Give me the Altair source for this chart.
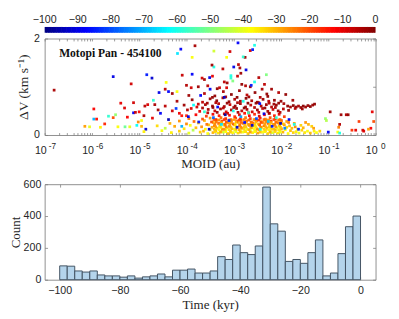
import altair as alt
import pandas as pd

# ---------------- data ----------------
cbar_ticks = [-100, -90, -80, -70, -60, -50, -40, -30, -20, -10, 0]
jet_stops = [-100, -87.5, -62.5, -37.5, -12.5, 0]
jet_colors = ["#000080", "#0000ff", "#00ffff", "#ffff00", "#ff0000", "#800000"]

time_ticks = [-100, -80, -60, -40, -20, 0]
count_ticks = [0, 200, 400, 600]
dv_ticks = [0, 1, 2]

bin_width = 2.5
bin_left = [-100 + bin_width * i for i in range(40)]
bin_count = [87, 85, 55, 48, 55, 30, 24, 24, 16, 24, 10, 18, 24, 36, 18, 60, 60, 67,
             42, 42, 55, 145, 127, 218, 170, 158, 212, 582, 351, 305, 115, 127, 103,
             170, 250, 24, 42, 164, 333, 400]

# scatter points: (log10 MOID [au], dV [km/s], time [kyr])
low_band = [
    (-4.32, 0.05, -36), (-3.95, 0.04, -40), (-3.71, 0.06, -33), (-3.55, 0.03, -38), (-3.44, 0.05, -30),
    (-3.33, 0.04, -35), (-3.22, 0.06, -42), (-3.12, 0.03, -31), (-3.02, 0.05, -37), (-2.91, 0.04, -34),
    (-2.81, 0.06, -39), (-2.70, 0.03, -32), (-2.60, 0.05, -36), (-2.49, 0.04, -29), (-2.39, 0.06, -38),
    (-2.28, 0.03, -33), (-2.18, 0.05, -41), (-2.07, 0.04, -35), (-1.96, 0.06, -30), (-1.85, 0.03, -37),
    (-1.74, 0.05, -33), (-1.62, 0.04, -39), (-1.50, 0.05, -35), (-1.38, 0.04, -31),
    (-4.52, 0.09, -38), (-4.15, 0.08, -33), (-3.86, 0.10, -45), (-3.64, 0.08, -30), (-3.50, 0.11, -36),
    (-3.38, 0.09, -28), (-3.27, 0.07, -34), (-3.17, 0.10, -39), (-3.07, 0.08, -31), (-2.96, 0.11, -27),
    (-2.86, 0.09, -36), (-2.75, 0.07, -33), (-2.65, 0.10, -40), (-2.54, 0.08, -30), (-2.44, 0.11, -35),
    (-2.33, 0.09, -32), (-2.23, 0.07, -37), (-2.12, 0.10, -29), (-2.02, 0.08, -34), (-1.91, 0.11, -38),
    (-1.80, 0.09, -31), (-1.68, 0.07, -36), (-1.56, 0.10, -33), (-1.44, 0.08, -38),
    (-4.45, 0.14, -44), (-4.05, 0.13, -35), (-3.80, 0.15, -31), (-3.60, 0.12, -37), (-3.46, 0.16, -29),
    (-3.35, 0.14, -33), (-3.24, 0.12, -26), (-3.14, 0.15, -36), (-3.04, 0.13, -30), (-2.93, 0.16, -34),
    (-2.83, 0.14, -28), (-2.72, 0.12, -39), (-2.62, 0.15, -31), (-2.51, 0.13, -27), (-2.41, 0.16, -35),
    (-2.30, 0.14, -30), (-2.20, 0.12, -33), (-2.09, 0.15, -38), (-1.99, 0.13, -29), (-1.88, 0.16, -34),
    (-1.77, 0.14, -31), (-1.65, 0.12, -36), (-1.53, 0.15, -30),
    (-4.62, 0.19, -34), (-4.25, 0.18, -29), (-3.92, 0.20, -38), (-3.68, 0.17, -27), (-3.53, 0.21, -32),
    (-3.41, 0.19, -25), (-3.30, 0.17, -35), (-3.19, 0.20, -29), (-3.09, 0.18, -23), (-2.99, 0.21, -33),
    (-2.88, 0.19, -28), (-2.78, 0.17, -31), (-2.67, 0.20, -26), (-2.57, 0.18, -36), (-2.46, 0.21, -29),
    (-2.36, 0.19, -24), (-2.25, 0.17, -32), (-2.15, 0.20, -28), (-2.04, 0.18, -35), (-1.93, 0.21, -27),
    (-1.82, 0.19, -31), (-1.70, 0.17, -26), (-1.58, 0.20, -33),
    (-4.35, 0.24, -30), (-4.00, 0.23, -26), (-3.75, 0.25, -33), (-3.57, 0.22, -24), (-3.43, 0.26, -29),
    (-3.32, 0.24, -22), (-3.21, 0.22, -31), (-3.11, 0.25, -27), (-3.01, 0.23, -20), (-2.90, 0.26, -30),
    (-2.80, 0.24, -25), (-2.69, 0.22, -28), (-2.59, 0.25, -23), (-2.48, 0.23, -32), (-2.38, 0.26, -26),
    (-2.27, 0.24, -21), (-2.17, 0.22, -29), (-2.06, 0.25, -25), (-1.95, 0.23, -31), (-1.84, 0.26, -24),
    (-1.72, 0.24, -28),
    (-4.15, 0.29, -27), (-3.84, 0.28, -23), (-3.62, 0.30, -30), (-3.47, 0.27, -20), (-3.36, 0.31, -26),
    (-3.25, 0.29, -19), (-3.15, 0.27, -28), (-3.05, 0.30, -22), (-2.94, 0.28, -17), (-2.84, 0.31, -27),
    (-2.73, 0.29, -21), (-2.63, 0.27, -25), (-2.52, 0.30, -19), (-2.42, 0.28, -29), (-2.31, 0.31, -23),
    (-2.21, 0.29, -18), (-2.10, 0.27, -26), (-1.99, 0.30, -22), (-1.88, 0.28, -28),
    (-3.95, 0.34, -24), (-3.66, 0.33, -20), (-3.50, 0.35, -27), (-3.38, 0.32, -17), (-3.27, 0.36, -23),
    (-3.17, 0.34, -16), (-3.06, 0.32, -25), (-2.96, 0.35, -19), (-2.86, 0.33, -15), (-2.75, 0.36, -24),
    (-2.65, 0.34, -18), (-2.54, 0.32, -22), (-2.44, 0.35, -16), (-2.33, 0.33, -26), (-2.23, 0.36, -20),
    (-2.12, 0.34, -15), (-2.02, 0.32, -23),
    (-1.35, 0.18, -33), (-1.42, 0.22, -30), (-1.30, 0.08, -36), (-1.48, 0.26, -27), (-1.25, 0.05, -38),
    (-1.18, 0.08, -33), (-1.31, 0.14, -28),
]

low_fill = [
    (-3.39, 0.07, -34), (-3.28, 0.06, -29), (-3.17, 0.07, -37), (-3.07, 0.06, -33), (-2.96, 0.07, -40),
    (-2.86, 0.06, -31), (-2.76, 0.07, -35), (-2.65, 0.06, -28), (-2.55, 0.07, -38), (-2.44, 0.06, -32),
    (-2.34, 0.07, -36), (-2.23, 0.06, -30), (-2.13, 0.07, -34), (-2.02, 0.06, -39),
    (-3.41, 0.12, -31), (-3.31, 0.11, -37), (-3.20, 0.12, -27), (-3.10, 0.11, -33), (-2.99, 0.12, -36),
    (-2.89, 0.11, -29), (-2.78, 0.12, -34), (-2.68, 0.11, -30), (-2.57, 0.12, -38), (-2.47, 0.11, -27),
    (-2.36, 0.12, -33), (-2.26, 0.11, -36), (-2.15, 0.12, -31), (-2.05, 0.11, -35),
    (-3.38, 0.17, -28), (-3.27, 0.16, -34), (-3.16, 0.17, -25), (-3.06, 0.16, -31), (-2.95, 0.17, -37),
    (-2.85, 0.16, -26), (-2.74, 0.17, -32), (-2.64, 0.16, -29), (-2.53, 0.17, -35), (-2.43, 0.16, -25),
    (-2.32, 0.17, -30), (-2.22, 0.16, -34), (-2.11, 0.17, -27), (-2.01, 0.16, -32),
    (-3.40, 0.22, -26), (-3.29, 0.21, -31), (-3.18, 0.22, -23), (-3.08, 0.21, -29), (-2.97, 0.22, -34),
    (-2.87, 0.21, -24), (-2.76, 0.22, -30), (-2.66, 0.21, -27), (-2.55, 0.22, -33), (-2.45, 0.21, -22),
    (-2.34, 0.22, -28), (-2.24, 0.21, -32), (-2.13, 0.22, -25), (-2.03, 0.21, -30),
    (-3.37, 0.27, -24), (-3.26, 0.26, -28), (-3.16, 0.27, -21), (-3.05, 0.26, -27), (-2.95, 0.27, -31),
    (-2.84, 0.26, -22), (-2.74, 0.27, -28), (-2.63, 0.26, -24), (-2.53, 0.27, -30), (-2.42, 0.26, -20),
    (-2.32, 0.27, -26), (-2.21, 0.26, -29), (-2.11, 0.27, -23), (-2.00, 0.26, -27),
    (-3.42, 0.32, -21), (-3.31, 0.31, -26), (-3.20, 0.32, -18), (-3.10, 0.31, -24), (-2.99, 0.32, -28),
    (-2.89, 0.31, -19), (-2.78, 0.32, -25), (-2.68, 0.31, -21), (-2.57, 0.32, -27), (-2.47, 0.31, -17),
    (-2.36, 0.32, -23), (-2.26, 0.31, -26), (-2.15, 0.32, -20), (-2.05, 0.31, -24),
]

red_band = [
    (-4.10, 0.40, -14), (-3.80, 0.42, -12), (-3.58, 0.39, -18), (-3.44, 0.43, -11), (-3.31, 0.40, -15),
    (-3.20, 0.44, -9), (-3.09, 0.41, -13), (-2.98, 0.38, -17), (-2.88, 0.42, -10), (-2.77, 0.45, -14),
    (-2.67, 0.40, -12), (-2.56, 0.43, -16), (-2.46, 0.39, -9), (-2.35, 0.42, -13), (-2.25, 0.45, -11),
    (-2.14, 0.40, -15), (-2.04, 0.43, -10), (-1.93, 0.38, -18),
]

dark_band = [
    (-4.30, 0.50, -8), (-3.98, 0.52, -5), (-3.72, 0.49, -10), (-3.54, 0.53, -4), (-3.40, 0.50, -7),
    (-3.28, 0.54, -3), (-3.16, 0.48, -9), (-3.05, 0.52, -5), (-2.94, 0.55, -2), (-2.83, 0.50, -6),
    (-2.72, 0.53, -4), (-2.61, 0.48, -8), (-2.50, 0.52, -3), (-2.39, 0.55, -6), (-2.28, 0.49, -4),
    (-2.17, 0.53, -7), (-2.06, 0.50, -3), (-1.95, 0.54, -5), (-1.84, 0.51, -2),
    (-4.45, 0.60, -6), (-4.05, 0.62, -3), (-3.78, 0.58, -8), (-3.60, 0.63, -4), (-3.45, 0.60, -2),
    (-3.32, 0.65, -5), (-3.20, 0.59, -3), (-3.08, 0.63, -7), (-2.97, 0.60, -2), (-2.86, 0.65, -4),
    (-2.75, 0.58, -3), (-2.64, 0.62, -6), (-2.53, 0.66, -2), (-2.42, 0.60, -4), (-2.31, 0.63, -3),
    (-2.20, 0.58, -5), (-2.10, 0.62, -2),
    (-4.20, 0.70, -4), (-3.88, 0.73, -2), (-3.66, 0.68, -6), (-3.50, 0.75, -3), (-3.36, 0.71, -1),
    (-3.23, 0.77, -4), (-3.10, 0.69, -2), (-2.98, 0.74, -5), (-2.86, 0.70, -3), (-2.74, 0.76, -1),
    (-2.62, 0.71, -4), (-2.50, 0.68, -2), (-2.38, 0.74, -3), (-2.26, 0.70, -6), (-2.14, 0.72, -2),
    (-3.95, 0.82, -3), (-3.62, 0.86, -5), (-3.40, 0.81, -2), (-3.22, 0.90, -4), (-3.05, 0.84, -1),
    (-2.88, 0.92, -3), (-2.72, 0.83, -6), (-2.55, 0.88, -2), (-2.40, 0.95, -4), (-2.65, 1.00, -3),
    (-3.30, 0.98, -7),
]

dark_fill = [
    (-3.55, 0.46, -6), (-3.35, 0.47, -3), (-3.13, 0.45, -8), (-2.91, 0.47, -4), (-2.69, 0.46, -2),
    (-2.47, 0.47, -7), (-2.25, 0.45, -3), (-2.02, 0.47, -5),
    (-3.66, 0.56, -4), (-3.44, 0.57, -2), (-3.22, 0.56, -6), (-3.00, 0.57, -3), (-2.78, 0.56, -1),
    (-2.56, 0.57, -5), (-2.34, 0.56, -2), (-2.12, 0.57, -4),
    (-3.56, 0.66, -3), (-3.38, 0.67, -5), (-3.14, 0.66, -2), (-2.92, 0.67, -4), (-2.70, 0.66, -1),
    (-2.47, 0.67, -3), (-2.25, 0.66, -5),
    (-3.45, 0.78, -2), (-3.17, 0.79, -4), (-2.93, 0.78, -1), (-2.68, 0.79, -3), (-2.44, 0.78, -5),
    (-2.28, 0.80, -2), (-3.75, 0.64, -7), (-3.90, 0.55, -9), (-4.15, 0.45, -11), (-4.00, 0.40, -16),
]

dark_clump = [
    (-2.15, 0.64, -3), (-2.05, 0.66, -2), (-1.94, 0.65, -4), (-2.00, 0.70, -2),
    (-1.86, 0.60, -2), (-1.80, 0.58, -3), (-1.74, 0.61, -1), (-1.68, 0.58, -2), (-1.63, 0.60, -4),
    (-1.58, 0.57, -2), (-1.53, 0.60, -1), (-1.48, 0.58, -3), (-1.43, 0.61, -2), (-1.38, 0.59, -1),
    (-1.33, 0.62, -3), (-1.29, 0.64, -2), (-1.70, 0.55, -5), (-1.55, 0.54, -3), (-1.90, 0.84, -2),
    (-1.75, 0.72, -3),
]

upper_sparse = [
    (-4.12, 1.78, -88), (-3.82, 1.85, -4), (-3.42, 1.74, -42), (-4.19, 1.69, -65), (-3.88, 1.61, -38),
    (-3.15, 1.61, -38), (-3.08, 1.73, -8), (-3.23, 1.37, -6), (-3.42, 1.41, -60), (-3.46, 1.45, -3),
    (-3.00, 1.41, -90), (-4.73, 1.18, -92), (-3.88, 1.26, -88), (-4.09, 1.24, -7), (-4.43, 1.09, -38),
    (-3.67, 1.18, -8), (-3.62, 1.15, -4), (-3.51, 1.19, -90), (-3.45, 1.22, -10), (-3.06, 1.23, -60),
    (-3.06, 1.18, -58), (-3.02, 1.12, -50), (-3.20, 1.10, -6), (-3.14, 1.08, -3), (-4.00, 1.03, -5),
    (-3.90, 0.98, -8), (-3.75, 1.00, -3), (-3.55, 1.02, -6), (-3.35, 0.96, -2), (-3.15, 0.98, -9),
    (-4.20, 0.90, -38), (-4.58, 0.88, -90), (-4.38, 0.90, -88), (-4.45, 0.95, -6), (-4.30, 0.86, -3),
    (-2.91, 1.91, -88), (-2.65, 1.75, -8), (-2.60, 1.77, -85), (-2.56, 1.86, -60), (-2.76, 1.61, -3),
    (-2.80, 1.62, -58), (-2.90, 1.46, -6), (-2.87, 1.39, -4), (-2.74, 1.35, -90), (-2.31, 1.25, -50),
    (-2.47, 1.19, -5), (-2.85, 1.28, -3), (-2.92, 1.22, -7), (-2.35, 1.05, -6), (-2.63, 1.03, -85),
    (-2.56, 1.10, -60), (-2.83, 1.05, -2), (-2.75, 1.02, -5), (-2.20, 0.95, -3), (-2.05, 0.88, -5),
    (-2.30, 0.85, -2),
]

left_sparse = [
    (-6.80, 0.93, -4), (-5.55, 1.21, -90), (-5.17, 1.06, -8), (-4.84, 1.25, -85), (-5.39, 0.66, -10),
    (-5.96, 0.54, -12), (-5.12, 0.67, -8), (-5.31, 0.56, -9), (-5.65, 0.39, -58), (-5.50, 0.42, -48),
    (-5.96, 0.33, -70), (-5.90, 0.33, -14), (-5.73, 0.23, -16), (-5.82, 0.16, -36), (-5.45, 0.17, -38),
    (-5.30, 0.17, -52), (-5.20, 0.17, -40), (-5.12, 0.46, -88), (-5.08, 0.47, -7), (-5.00, 0.48, -12),
    (-4.82, 0.63, -9), (-4.88, 0.60, -6), (-5.02, 0.27, -26), (-4.95, 0.30, -38), (-4.86, 0.12, -92),
    (-6.05, 0.17, -40), (-6.15, 0.18, -28), (-5.55, 0.36, -20), (-5.25, 0.37, -12), (-5.05, 0.20, -62),
    (-4.90, 0.40, -5), (-4.95, 0.18, -30), (-4.90, 0.07, -36), (-4.67, 0.63, -4), (-4.72, 0.35, -10),
    (-4.60, 0.52, -3),
]

right_sparse = [
    (-0.96, 0.48, -3), (-0.73, 0.42, -3), (-0.62, 0.42, -5), (-0.58, 0.42, -2), (-0.07, 0.48, -10),
    (-0.04, 0.28, -20), (-0.35, 0.28, -18), (-0.27, 0.10, -8), (-0.25, 0.08, -9), (-0.50, 0.10, -17),
    (-0.42, 0.10, -10), (-0.10, 0.14, -12), (-0.76, 0.22, -5), (-0.78, 0.16, -25), (-0.80, 0.06, -38),
    (-1.00, 0.06, -88), (-1.06, 0.34, -48), (-1.04, 0.30, -45), (-0.76, 0.04, -60), (-0.15, 0.12, -28),
]

blue_pts = [
    (-4.55, 0.45, -88), (-4.38, 0.32, -95), (-4.22, 0.55, -82), (-4.10, 0.18, -70), (-3.96, 0.38, -90),
    (-3.85, 0.62, -62), (-3.74, 0.27, -86), (-3.62, 0.48, -58), (-3.52, 0.12, -92), (-3.43, 0.36, -78),
    (-3.34, 0.58, -89), (-3.26, 0.22, -65), (-3.18, 0.42, -97), (-3.10, 0.30, -84), (-3.01, 0.50, -60),
    (-2.93, 0.16, -91), (-2.85, 0.38, -72), (-2.77, 0.26, -87), (-2.69, 0.46, -56), (-2.61, 0.20, -93),
    (-2.52, 0.34, -80), (-2.44, 0.12, -62), (-2.36, 0.44, -90), (-2.27, 0.28, -68), (-2.19, 0.18, -86),
    (-2.10, 0.36, -58), (-2.01, 0.24, -94), (-1.92, 0.14, -75), (-1.83, 0.32, -89), (-1.72, 0.22, -60),
    (-1.63, 0.12, -85), (-3.70, 0.82, -88), (-3.20, 0.78, -93), (-2.80, 0.70, -60), (-2.45, 0.65, -86),
    (-4.70, 0.72, -58), (-3.50, 0.95, -89),
]

panel_label = "Motopi Pan - 454100"

# ---------------- frames ----------------
rows = (low_band + low_fill + red_band + dark_band + dark_fill + dark_clump + upper_sparse
        + left_sparse + right_sparse + blue_pts)
sc = pd.DataFrame(rows, columns=["lm", "dv", "t"])
sc["moid"] = 10.0 ** sc["lm"]

cb_left = [-100 + 0.5 * i for i in range(200)]
cb = pd.DataFrame({"t0": cb_left,
                   "t1": [min(v + 0.7, 0) for v in cb_left],
                   "tc": [v + 0.25 for v in cb_left]})
cbl = pd.DataFrame({"t": cbar_ticks})

hdf = pd.DataFrame({"left": bin_left,
                    "right": [v + bin_width for v in bin_left],
                    "count": bin_count,
                    "zero": [0] * len(bin_left)})

dummy = pd.DataFrame({"moid": [1e-3], "dv": [1.0]})
hdummy = pd.DataFrame({"left": [-50.0], "count": [100.0]})
label_df = pd.DataFrame({"txt": [panel_label]})

minor_vals = [m * 10.0 ** k for k in range(-7, 0) for m in range(1, 10)] + [1.0]
decades = [10.0 ** k for k in range(-7, 1)]

# ---------------- scales ----------------
color_scale = alt.Scale(domain=jet_stops, range=jet_colors, interpolate="rgb")
moid_scale = alt.Scale(type="log", domain=[1e-7, 1], nice=False)
dv_scale = alt.Scale(domain=[0, 2], nice=False)
t_scale = alt.Scale(domain=[-105, 5], nice=False)
c_scale = alt.Scale(domain=[0, 600], nice=False)

# colour-bar time -> position along the (shared) top axis span
T2X = "pow(10, -7 + 0.07 * ({} + 100))"

is_dec = "abs(log(datum.value)/LN10 - round(log(datum.value)/LN10)) < 0.001"
exp_list = "['-7','-6','-5','-4','-3','-2','-1','0']"
TK = {"expr": "-3"}
TKm = {"expr": "-2.5"}

# ---------------- top panel ----------------
points = alt.Chart(sc).mark_square(size=8, opacity=0.95).encode(
    x=alt.X("moid:Q", scale=moid_scale,
            axis=alt.Axis(orient="bottom", values=minor_vals,
                          labelExpr=f"{is_dec} ? '10' : ''",
                          labelOffset=-4.5, labelPadding=12.5, tickSize=TKm,
                          title="MOID (au)", titlePadding=2,
                          labelOverlap=False, labelFlush=False)),
    y=alt.Y("dv:Q", scale=dv_scale,
            axis=alt.Axis(orient="left", values=dv_ticks, format="d", tickSize=TK,
                          labelPadding=8.5, title="ΔV (km s⁻¹)", titlePadding=3,
                          titleFontSize=14)),
    color=alt.Color("t:Q", scale=color_scale, legend=None),
)

exps = alt.Chart(dummy).mark_point(opacity=0).encode(
    x=alt.X("moid:Q", scale=moid_scale,
            axis=alt.Axis(orient="bottom", values=decades,
                          labelExpr=f"{exp_list}[round(log(datum.value)/LN10)+7]",
                          labelFontSize=8.5, labelOffset=7.5, labelPadding=7,
                          ticks=False, title=None, labelOverlap=False, labelFlush=False)),
    y=alt.Y("dv:Q", scale=dv_scale, axis=None),
)

mirror = alt.Chart(dummy).mark_point(opacity=0).encode(
    x=alt.X("moid:Q", scale=moid_scale,
            axis=alt.Axis(orient="top", values=minor_vals, labels=False,
                          tickSize=TKm, title=None)),
    y=alt.Y("dv:Q", scale=dv_scale,
            axis=alt.Axis(orient="right", values=dv_ticks, labels=False,
                          tickSize=TK, title=None)),
)

cbar = alt.Chart(cb).transform_calculate(
    x0=T2X.format("datum.t0"), x1=T2X.format("datum.t1")
).mark_rect().encode(
    x=alt.X("x0:Q", scale=moid_scale, axis=None),
    x2="x1:Q",
    y=alt.value(-12),
    y2=alt.value(-6),
    color=alt.Color("tc:Q", scale=color_scale, legend=None),
)

cbar_lab = alt.Chart(cbl).transform_calculate(
    xm=T2X.format("datum.t")
).mark_text(baseline="bottom", font="Liberation Sans", fontSize=11,
            color="#262626").encode(
    x=alt.X("xm:Q", scale=moid_scale, axis=None),
    y=alt.value(-14),
    text=alt.Text("t:Q", format="d"),
)

title_txt = alt.Chart(label_df).mark_text(
    align="left", baseline="alphabetic", font="Liberation Serif",
    fontWeight="bold", fontSize=12, color="#111111"
).encode(x=alt.value(15), y=alt.value(19), text="txt:N")

top = alt.layer(points, exps, mirror, cbar, cbar_lab, title_txt).resolve_axis(
    x="independent", y="independent").properties(width=343, height=100)

# ---------------- bottom panel ----------------
bars = alt.Chart(hdf).mark_rect(fill="#b4d4eb", stroke="#3f5060", strokeWidth=1).encode(
    x=alt.X("left:Q", scale=t_scale,
            axis=alt.Axis(orient="bottom", values=time_ticks, tickSize=TK,
                          labelPadding=8, title="Time (kyr)", titlePadding=3,
                          labelFlush=False)),
    x2="right:Q",
    y=alt.Y("count:Q", scale=c_scale,
            axis=alt.Axis(orient="left", values=count_ticks, tickSize=TK,
                          labelPadding=7, title="Count", titlePadding=1)),
    y2="zero:Q",
)

hmirror = alt.Chart(hdummy).mark_point(opacity=0).encode(
    x=alt.X("left:Q", scale=t_scale,
            axis=alt.Axis(orient="top", values=time_ticks, labels=False,
                          tickSize=TK, title=None)),
    y=alt.Y("count:Q", scale=c_scale,
            axis=alt.Axis(orient="right", values=count_ticks, labels=False,
                          tickSize=TK, title=None)),
)

bottom = alt.layer(bars, hmirror).resolve_axis(
    x="independent", y="independent").properties(width=343, height=99)

chart = alt.vconcat(top, bottom, spacing=51, bounds="flush").properties(
    padding={"left": 0, "top": 0, "right": 5, "bottom": 0}
).configure_view(
    stroke="#8c8c8c", strokeWidth=1
).configure_axis(
    labelFont="Liberation Sans", labelFontSize=11, labelColor="#262626",
    titleFont="Liberation Serif", titleFontSize=13.5, titleFontWeight="normal",
    titleColor="#262626", tickColor="#7f7f7f", tickWidth=0.8,
    domain=False, grid=False
)

chart.save("out.html", embed_options={"renderer": "svg", "actions": False})
